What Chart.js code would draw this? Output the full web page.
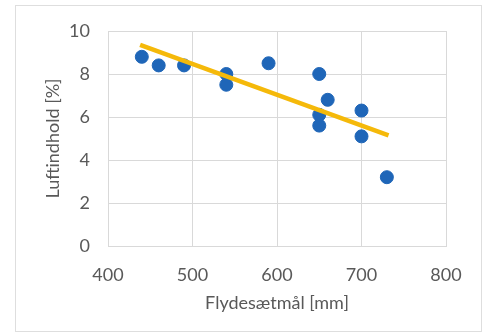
<!DOCTYPE html>
<html>
<head>
<meta charset="utf-8">
<script src="https://cdn.jsdelivr.net/npm/chart.js@4"></script>
<style>
  html, body { margin: 0; padding: 0; background: #ffffff; }
  #wrap { position: relative; width: 487px; height: 334px; }
</style>
</head>
<body>
<div id="wrap"><canvas id="c" width="487" height="334"></canvas></div>
<script>
// Data
const xValues = [440, 460, 490, 540, 540, 590, 650, 650, 650, 660, 700, 700, 730];
const yValues = [8.8, 8.4, 8.4, 8.0, 7.5, 8.5, 8.0, 6.1, 5.6, 6.8, 6.3, 5.1, 3.2];
const trendX = [438, 732];
const trendY = [9.35, 5.15];
const xTicks = [400, 500, 600, 700, 800];
const yTicks = [0, 2, 4, 6, 8, 10];
const xTitle = 'Flydesætmål [mm]';
const yTitle = 'Luftindhold [%]';

const points = xValues.map((x, i) => ({ x: x, y: yValues[i] }));
const trend = trendX.map((x, i) => ({ x: x, y: trendY[i] }));

const TEXT = '#595959';
const GRID = '#d9d9d9';
const FONT = { family: 'Lato, "Open Sans", sans-serif', size: 18 };

const frame = {
  id: 'frame',
  beforeDraw(chart) {
    const ctx = chart.ctx;
    ctx.save();
    ctx.fillStyle = '#ffffff';
    ctx.fillRect(0, 0, chart.width, chart.height);
    ctx.strokeStyle = '#dedede';
    ctx.lineWidth = 1;
    ctx.strokeRect(15.5, 5.5, 466, 326);
    ctx.restore();
  }
};

new Chart(document.getElementById('c'), {
  type: 'scatter',
  data: {
    datasets: [
      {
        type: 'line',
        label: 'Trend',
        data: trend,
        borderColor: '#f5b90a',
        borderWidth: 4.5,
        pointRadius: 0,
        fill: false,
        order: 0
      },
      {
        label: 'Data',
        data: points,
        backgroundColor: '#1f66b8',
        borderColor: '#1f66b8',
        pointRadius: 6.5,
        pointHoverRadius: 6.5,
        order: 1
      }
    ]
  },
  options: {
    responsive: false,
    animation: false,
    events: [],
    layout: { padding: { top: 31, right: 41, left: 0, bottom: 0 } },
    plugins: { legend: { display: false }, tooltip: { enabled: false } },
    scales: {
      x: {
        type: 'linear',
        min: 400, max: 800,
        afterBuildTicks(scale) { scale.ticks = xTicks.map(v => ({ value: v })); },
        afterFit(scale) { scale.height = 88; },
        grid: { color: GRID, drawTicks: false },
        border: { color: GRID },
        ticks: { color: TEXT, font: FONT, padding: 18, maxRotation: 0 },
        title: { display: true, text: xTitle, color: TEXT, font: FONT, padding: { top: 0, bottom: 20 } }
      },
      y: {
        type: 'linear',
        min: 0, max: 10,
        afterBuildTicks(scale) { scale.ticks = yTicks.map(v => ({ value: v })); },
        afterFit(scale) { scale.width = 108; },
        grid: { color: GRID, drawTicks: false },
        border: { color: GRID },
        ticks: { color: TEXT, font: FONT, padding: 18 },
        title: { display: true, text: yTitle, color: TEXT, font: FONT, padding: { top: 42, bottom: 0 } }
      }
    }
  },
  plugins: [frame]
});
</script>
</body>
</html>
